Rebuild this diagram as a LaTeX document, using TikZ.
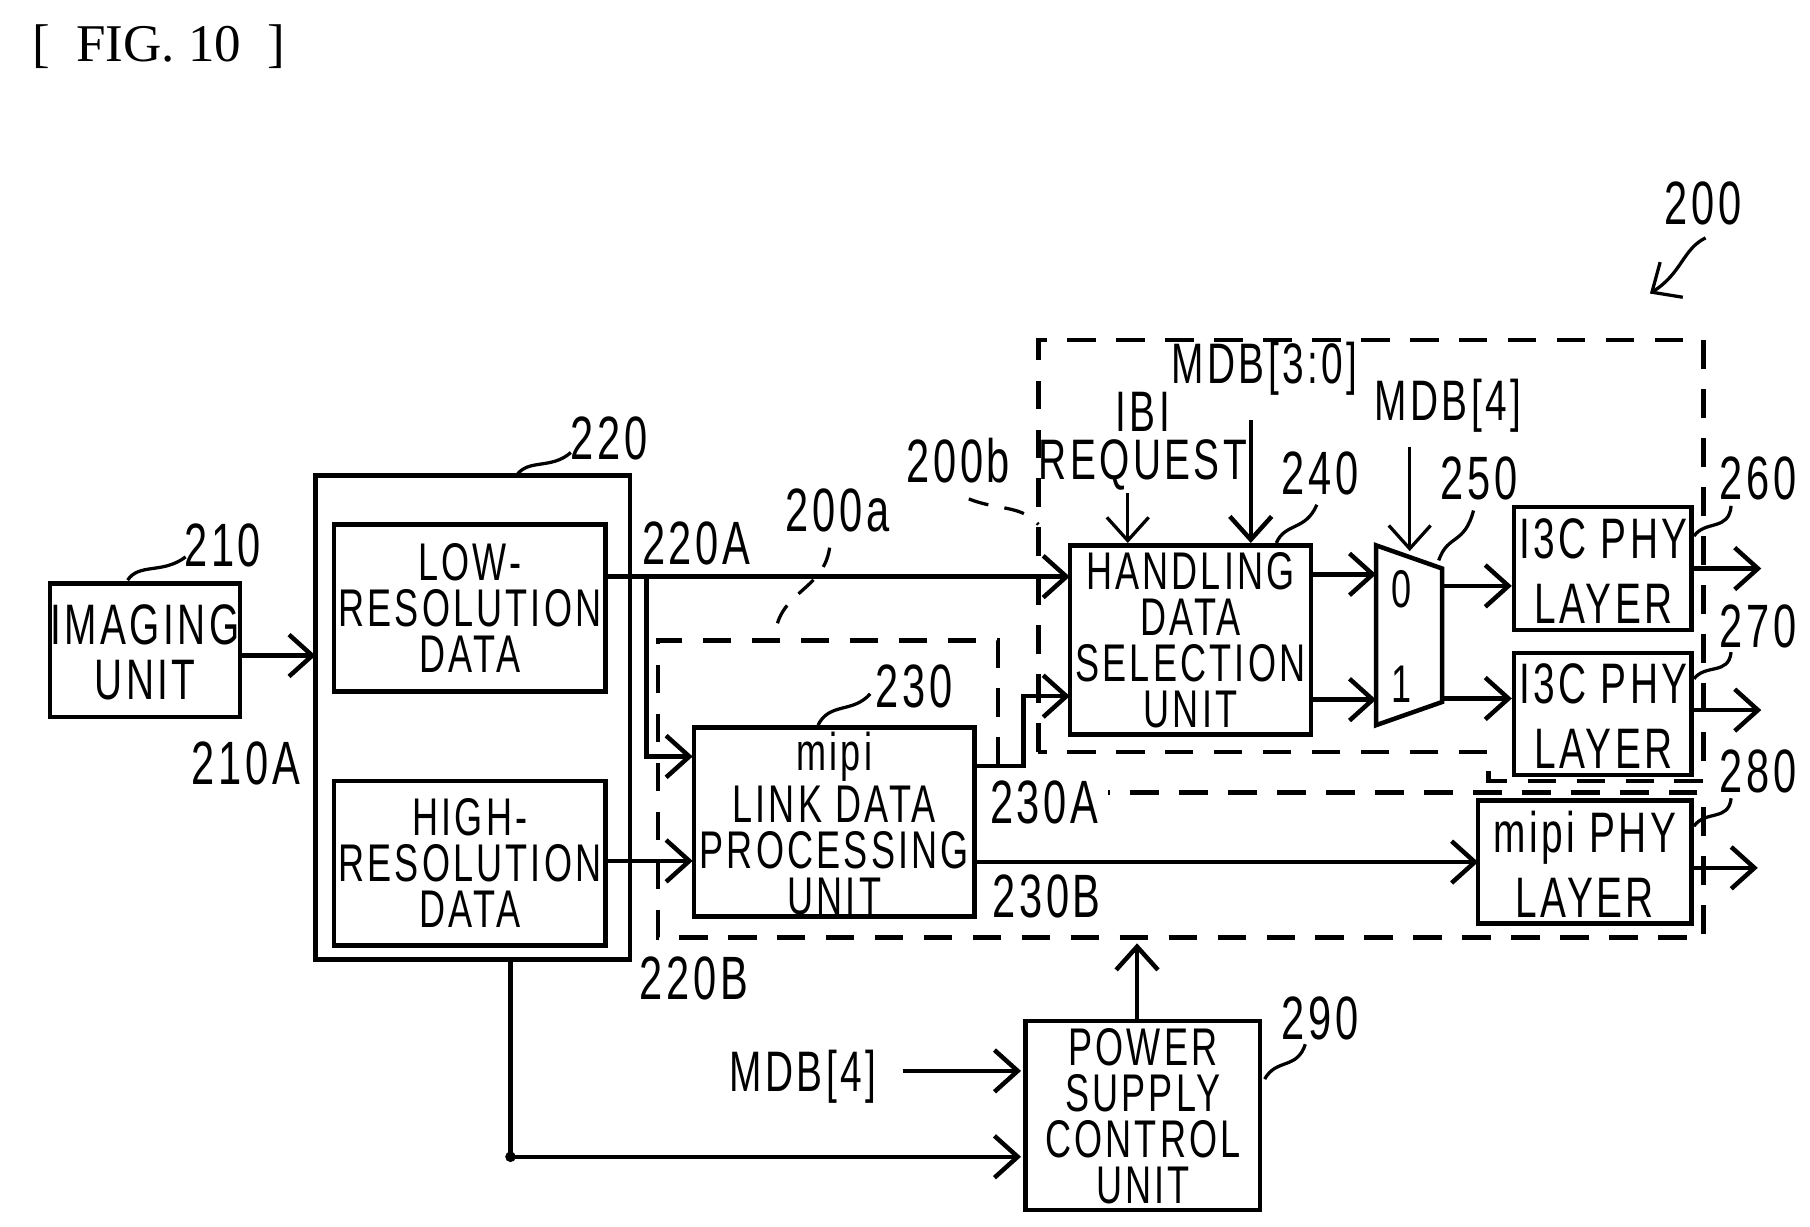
\documentclass[tikz,border=0pt]{standalone}
\usepackage{fontspec}
\setmainfont{Liberation Sans}[FakeStretch=0.68,LetterSpace=6]
\newfontfamily\figfont{Liberation Serif}
\usetikzlibrary{arrows.meta}
\begin{document}
\begin{tikzpicture}[x=0.01cm,y=-0.01cm,line width=1.1pt,
  box/.style={draw},
  t/.style={font=\fontsize{13}{11.3}\selectfont,align=center,inner sep=0pt},
  lbl/.style={font=\fontsize{15}{15}\selectfont,inner sep=0pt},
  ar/.style={-{Straight Barb[length=2mm,width=3.6mm]}},
  ld/.style={line width=0.8pt},
  dsh/.style={dashed,dash pattern=on 7pt off 5pt,line width=1.1pt}]
\useasboundingbox (0,0) rectangle (1560,1057);
\node[font=\figfont\fontsize{13}{13}\selectfont,anchor=west] (fig) at (14,40) {[\ \ FIG. 10\ \ ]};
% 200
\node[lbl] (l200) at (1468,175) {200};
\draw[ar,ld] (1470,205) .. controls (1450,215) and (1450,235) .. (1422,253);
% imaging
\draw[box] (43,503) rectangle (207,618);
\node[t,font=\fontsize{14}{13.5}\selectfont] (img) at (125,562) {IMAGING\\UNIT};
\node[lbl] (l210) at (192,470) {210};
\draw[ld] (110,500) .. controls (120,485) and (140,495) .. (160,480);
\node[lbl] (l210a) at (212,658) {210A};
\draw[ar] (207,565) -- (272,565);
% 220
\draw[box] (272,410) rectangle (543,827);
\node[lbl] (l220) at (525,378) {220};
\draw[ld] (445,410) .. controls (455,395) and (475,405) .. (492,390);
\draw[box] (288,452) rectangle (522,596);
\node[t] (low) at (405,524) {LOW-\\RESOLUTION\\DATA};
\draw[box] (288,673) rectangle (522,815);
\node[t] (high) at (405,744) {HIGH-\\RESOLUTION\\DATA};
\node[lbl] (l220a) at (600,468) {220A};
\node[lbl] (l220b) at (598,843) {220B};
% dashed 200a
\draw[dsh] (860,660) -- (860,552) -- (567,552) -- (567,808) -- (1468,808) -- (1468,683) -- (955,683);
\node[lbl] (l200a) at (722,440) {200a};
\draw[dsh,line width=0.8pt,dash pattern=on 5pt off 4pt] (715,472) .. controls (710,510) and (668,510) .. (668,552);
% dashed 200b
\draw[dsh] (895,648) -- (895,293) -- (1468,293) -- (1468,673) -- (1283,673) -- (1283,648) -- cycle;
\node[lbl] (l200b) at (826,397) {200b};
\draw[dsh,line width=0.8pt,dash pattern=on 5pt off 4pt] (835,430) .. controls (860,440) and (880,435) .. (895,452);
% handling
\draw[box] (922,470) rectangle (1130,633);
\node[t] (hand) at (1026,552) {HANDLING\\DATA\\SELECTION\\UNIT};
\node[lbl] (l240) at (1138,408) {240};
\draw[ld] (1100,468) .. controls (1108,450) and (1125,458) .. (1135,435);
\node[t,font=\fontsize{14}{11.8}\selectfont] (ibi) at (985,380) {IBI\\REQUEST};
\draw[ar,line width=0.8pt] (972,425) -- (972,468);
\node[t,font=\fontsize{14}{14}\selectfont] (mdb30) at (1090,318) {MDB[3:0]};
\draw[ar] (1078,362) -- (1078,468);
\node[t,font=\fontsize{14}{14}\selectfont] (mdb4a) at (1248,350) {MDB[4]};
\draw[ar,line width=0.8pt] (1215,385) -- (1215,475);
% mux
\draw (1186,470) -- (1243,490) -- (1243,605) -- (1186,625) -- cycle;
\node[t] (m0) at (1208,508) {0};
\node[t] (m1) at (1208,590) {1};
\node[lbl] (l250) at (1275,412) {250};
\draw[ld] (1240,483) .. controls (1248,460) and (1262,470) .. (1270,440);
\draw[ar] (1130,495) -- (1186,495);
\draw[ar] (1130,603) -- (1186,603);
\draw[ar] (1243,505) -- (1303,505);
\draw[ar] (1243,602) -- (1303,602);
% PHYs
\draw[box] (1305,437) rectangle (1458,543);
\node[t,font=\fontsize{14}{14}\selectfont] (p260) at (1382,492) {I3C PHY\\[2pt]LAYER};
\draw[box] (1305,563) rectangle (1458,668);
\node[t,font=\fontsize{14}{14}\selectfont] (p270) at (1382,617) {I3C PHY\\[2pt]LAYER};
\draw[box] (1274,690) rectangle (1458,796);
\node[t,font=\fontsize{14}{14}\selectfont] (p280) at (1366,745) {mipi PHY\\[2pt]LAYER};
\draw[ar] (1458,490) -- (1518,490);
\draw[ar] (1458,612) -- (1518,612);
\draw[ar] (1458,748) -- (1515,748);
\node[lbl] (l260) at (1515,412) {260};
\node[lbl] (l270) at (1515,540) {270};
\node[lbl] (l280) at (1515,665) {280};
\draw[ld] (1460,462) .. controls (1470,448) and (1490,458) .. (1492,436);
\draw[ld] (1460,585) .. controls (1470,572) and (1490,582) .. (1492,562);
\draw[ld] (1460,712) .. controls (1470,698) and (1490,708) .. (1492,688);
% 230
\draw[box] (598,627) rectangle (840,790);
\node[t] (link) at (719,710) {mipi\\LINK DATA\\PROCESSING\\UNIT};
\node[lbl] (l230) at (788,592) {230};
\draw[ld] (705,625) .. controls (715,605) and (735,615) .. (750,598);
% connections
\draw[ar] (522,497) -- (922,497);
\draw[ar] (557,497) -- (557,652) -- (597,652);
\draw[ar] (522,742) -- (597,742);
\draw[ar] (840,660) -- (882,660) -- (882,600) -- (922,600);
\node[lbl] (l230a) at (900,692) {230A};
\draw[ar] (840,743) -- (1274,743);
\node[lbl] (l230b) at (902,773) {230B};
% power
\draw[box] (884,880) rectangle (1086,1043);
\node[t] (pw) at (985,962) {POWER\\SUPPLY\\CONTROL\\UNIT};
\node[lbl] (l290) at (1138,878) {290};
\draw[ld] (1090,930) .. controls (1100,912) and (1118,922) .. (1125,900);
\draw[ar] (980,880) -- (980,813);
\node[t,font=\fontsize{14}{14}\selectfont] (mdb4b) at (692,928) {MDB[4]};
\draw[ar] (778,923) -- (880,923);
\draw[ar] (440,827) -- (440,997) -- (880,997);
\fill (440,997) circle (1.3pt);
\end{tikzpicture}
\end{document}
